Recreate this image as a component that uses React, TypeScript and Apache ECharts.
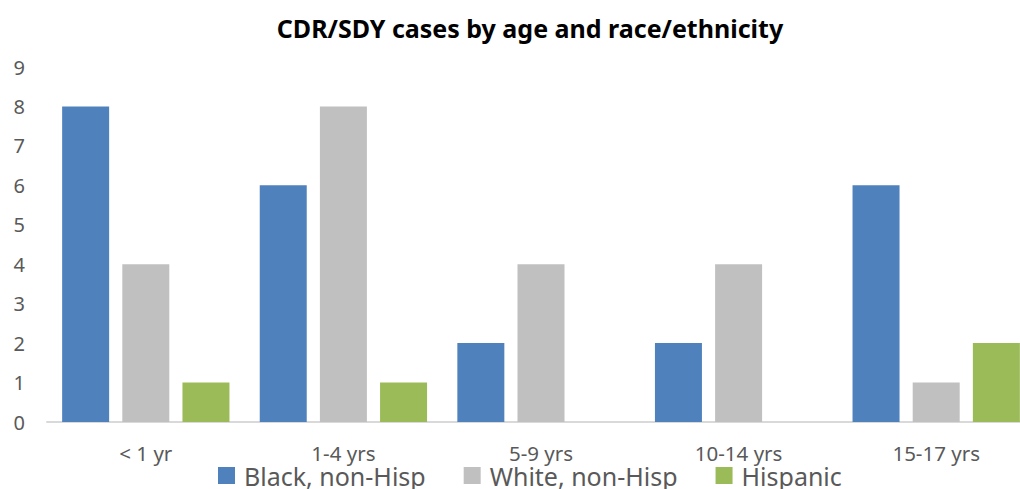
import React, { useEffect, useRef } from "react";
import * as echarts from "echarts";

const categories = ["< 1 yr", "1-4 yrs", "5-9 yrs", "10-14 yrs", "15-17 yrs"];
const blackNonHisp = [8, 6, 2, 2, 6];
const whiteNonHisp = [4, 8, 4, 4, 1];
const hispanic = [1, 1, 0, 0, 2];
const yTicks = { min: 0, max: 9, interval: 1 };

export default function App() {
  const ref = useRef<HTMLDivElement>(null);
  useEffect(() => {
    if (!ref.current) return;
    document.body.style.overflow = "hidden";
    const chart = echarts.init(ref.current, null, { renderer: "svg" });
    const font = "Noto Sans";
    const mk = (name: string, data: number[], color: string) => ({
      name,
      type: "bar",
      data,
      barWidth: 47,
      barGap: "28%",
      itemStyle: { color },
    });
    chart.setOption({
      animation: false,
      title: {
        text: "CDR/SDY cases by age and race/ethnicity",
        left: 525,
        textAlign: "center",
        top: 10,
        textStyle: { fontFamily: font, fontWeight: "bold", fontSize: 25, color: "#000" },
      },
      legend: {
        left: 218,
        top: 463,
        padding: 0,
        itemWidth: 17,
        itemHeight: 17,
        itemGap: 38,
        icon: "rect",
        textStyle: { fontFamily: font, fontSize: 25, lineHeight: 24, color: "#595959", padding: [0, 0, 0, 4] },
        data: ["Black, non-Hisp", "White, non-Hisp", "Hispanic"],
      },
      grid: { left: 47, top: 67, right: 0, height: 355, containLabel: false },
      xAxis: {
        type: "category",
        data: categories,
        axisLine: { lineStyle: { color: "#d9d9d9", width: 2 } },
        axisTick: { show: false },
        axisLabel: { fontFamily: font, fontSize: 20.5, lineHeight: 20, color: "#595959", margin: 21 },
      },
      yAxis: {
        type: "value",
        min: yTicks.min,
        max: yTicks.max,
        interval: yTicks.interval,
        axisLine: { show: false },
        axisTick: { show: false },
        splitLine: { show: false },
        axisLabel: { fontFamily: font, fontSize: 20, color: "#595959", margin: 22 },
      },
      series: [
        mk("Black, non-Hisp", blackNonHisp, "#4f81bd"),
        mk("White, non-Hisp", whiteNonHisp, "#c0c0c0"),
        mk("Hispanic", hispanic, "#9bbb59"),
      ],
    });
    return () => chart.dispose();
  }, []);
  return <div ref={ref} style={{ width: 1034.5, height: 489, position: "absolute", left: 0, top: 0 }} />;
}
